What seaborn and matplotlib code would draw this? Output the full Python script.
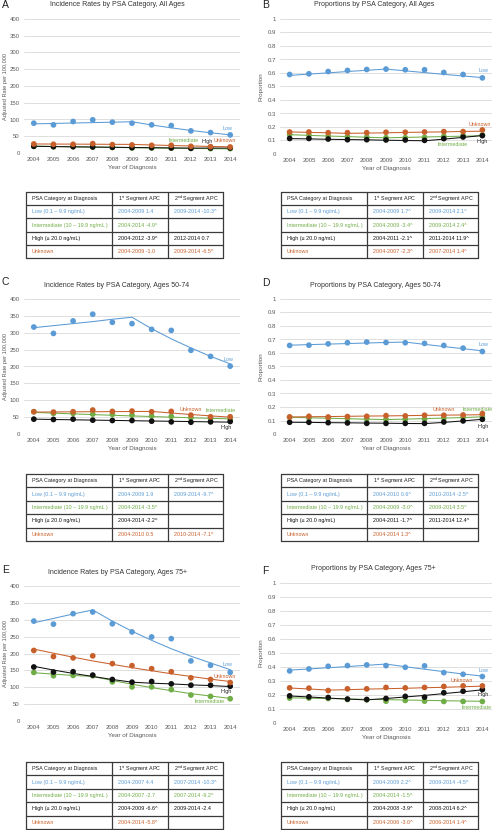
import matplotlib
matplotlib.use("Agg")
import matplotlib.pyplot as plt
import seaborn as sns
import pandas as pd
from matplotlib.lines import Line2D

# ---------------- data ----------------
YEARS = list(range(2004, 2015))
CATEGORIES = ["Low", "Intermediate", "High", "Unknown"]

# A: incidence, all ages
A_LOW_OBS = [89, 84, 94, 99, 92, 89, 84, 82, 66, 61, 54]
A_LOW_FIT = [87.0, 88.2, 89.5, 90.7, 92.0, 93.3, 83.7, 75.1, 67.3, 60.4, 54.2]
A_INT_OBS = [20, 19, 19, 18, 17, 15, 15, 15, 14, 13, 13]
A_INT_FIT = [20.5, 19.5, 18.5, 17.6, 16.8, 15.9, 15.2, 14.4, 13.7, 13.0, 12.4]
A_HIGH_OBS = [20, 19, 19, 18, 17, 16, 16, 15, 14, 15, 15]
A_HIGH_FIT = [20.0, 19.2, 18.5, 17.8, 17.1, 16.4, 15.8, 15.2, 14.6, 14.7, 14.8]
A_UNK_OBS = [27, 26, 26, 28, 25, 24, 23, 23, 20, 19, 18]
A_UNK_FIT = [27.0, 26.7, 26.5, 26.2, 25.9, 25.7, 24.0, 22.4, 21.0, 19.6, 18.4]

# B: proportions, all ages
B_LOW_OBS = [0.589, 0.594, 0.611, 0.619, 0.626, 0.629, 0.624, 0.624, 0.604, 0.589, 0.564]
B_LOW_FIT = [0.582, 0.592, 0.601, 0.611, 0.620, 0.629, 0.616, 0.603, 0.590, 0.578, 0.566]
B_INT_OBS = [0.144, 0.139, 0.134, 0.129, 0.126, 0.121, 0.121, 0.123, 0.131, 0.136, 0.141]
B_INT_FIT = [0.143, 0.138, 0.133, 0.129, 0.124, 0.120, 0.123, 0.126, 0.129, 0.132, 0.135]
B_HIGH_OBS = [0.115, 0.115, 0.111, 0.106, 0.106, 0.104, 0.104, 0.101, 0.114, 0.126, 0.136]
B_HIGH_FIT = [0.114, 0.112, 0.109, 0.107, 0.105, 0.102, 0.100, 0.098, 0.110, 0.123, 0.137]
B_UNK_OBS = [0.163, 0.163, 0.158, 0.158, 0.158, 0.161, 0.161, 0.163, 0.166, 0.166, 0.178]
B_UNK_FIT = [0.164, 0.160, 0.157, 0.153, 0.155, 0.157, 0.160, 0.162, 0.164, 0.167, 0.169]

# C: incidence, ages 50-74
C_LOW_OBS = [317, 298, 335, 355, 331, 327, 310, 307, 248, 230, 201]
C_LOW_FIT = [315, 321, 327, 333, 340, 346, 312, 282, 255, 230, 208]
C_INT_OBS = [66, 61, 61, 59, 58, 56, 53, 52, 48, 46, 44]
C_INT_FIT = [64.0, 61.8, 59.6, 57.5, 55.5, 53.6, 51.7, 49.9, 48.1, 46.4, 44.8]
C_HIGH_OBS = [44, 43, 44, 41, 40, 40, 38, 36, 35, 36, 37]
C_HIGH_FIT = [44.0, 43.0, 42.1, 41.2, 40.3, 39.4, 38.5, 37.7, 36.8, 36.0, 35.2]
C_UNK_OBS = [66, 65, 66, 71, 67, 68, 66, 67, 56, 51, 51]
C_UNK_FIT = [65.0, 65.3, 65.7, 66.0, 66.3, 66.6, 67.0, 62.2, 57.8, 53.7, 49.9]

# D: proportions, ages 50-74
D_LOW_OBS = [0.656, 0.658, 0.668, 0.676, 0.681, 0.678, 0.676, 0.671, 0.656, 0.636, 0.611]
D_LOW_FIT = [0.658, 0.662, 0.666, 0.670, 0.674, 0.678, 0.681, 0.664, 0.648, 0.632, 0.616]
D_INT_OBS = [0.124, 0.119, 0.116, 0.114, 0.111, 0.109, 0.109, 0.111, 0.119, 0.124, 0.131]
D_INT_FIT = [0.124, 0.120, 0.117, 0.113, 0.110, 0.107, 0.110, 0.114, 0.118, 0.122, 0.127]
D_HIGH_OBS = [0.087, 0.087, 0.084, 0.082, 0.079, 0.079, 0.079, 0.079, 0.089, 0.097, 0.109]
D_HIGH_FIT = [0.087, 0.086, 0.084, 0.083, 0.081, 0.080, 0.078, 0.077, 0.086, 0.097, 0.109]
D_UNK_OBS = [0.126, 0.131, 0.126, 0.129, 0.131, 0.136, 0.134, 0.139, 0.139, 0.141, 0.151]
D_UNK_FIT = [0.126, 0.128, 0.129, 0.131, 0.133, 0.134, 0.136, 0.138, 0.140, 0.141, 0.143]

# E: incidence, ages 75+
E_LOW_OBS = [296, 287, 318, 323, 288, 264, 249, 244, 178, 165, 144]
E_LOW_FIT = [291, 304, 317, 329, 296, 266, 239, 214, 192, 172, 152]
E_INT_OBS = [144, 134, 135, 134, 116, 101, 101, 93, 77, 73, 66]
E_INT_FIT = [143, 139, 135, 132, 120, 109, 99, 90, 81, 74, 67]
E_HIGH_OBS = [160, 145, 146, 136, 123, 115, 117, 110, 106, 106, 103]
E_HIGH_FIT = [162, 151, 141, 132, 123, 115, 112, 110, 107, 105, 102]
E_UNK_OBS = [209, 191, 187, 193, 170, 164, 155, 146, 128, 123, 114]
E_UNK_FIT = [213, 201, 189, 178, 168, 158, 149, 140, 132, 124, 117]

# F: proportions, ages 75+
F_LOW_OBS = [0.372, 0.386, 0.405, 0.410, 0.415, 0.410, 0.398, 0.408, 0.360, 0.348, 0.332]
F_LOW_FIT = [0.378, 0.386, 0.395, 0.403, 0.412, 0.421, 0.402, 0.384, 0.367, 0.350, 0.335]
F_INT_OBS = [0.178, 0.178, 0.175, 0.168, 0.166, 0.156, 0.161, 0.156, 0.154, 0.154, 0.154]
F_INT_FIT = [0.180, 0.177, 0.175, 0.172, 0.169, 0.167, 0.164, 0.162, 0.159, 0.157, 0.155]
F_HIGH_OBS = [0.194, 0.187, 0.182, 0.171, 0.168, 0.175, 0.190, 0.185, 0.216, 0.227, 0.239]
F_HIGH_FIT = [0.193, 0.186, 0.178, 0.171, 0.165, 0.175, 0.186, 0.197, 0.210, 0.223, 0.237]
F_UNK_OBS = [0.251, 0.249, 0.232, 0.244, 0.244, 0.254, 0.251, 0.254, 0.261, 0.265, 0.265]
F_UNK_FIT = [0.250, 0.243, 0.235, 0.238, 0.242, 0.245, 0.248, 0.252, 0.255, 0.259, 0.263]

INC_TICKS = [0, 50, 100, 150, 200, 250, 300, 350, 400]
INC_TICK_LABELS = ["0", "50", "100", "150", "200", "250", "300", "350", "400"]
PROP_TICKS = [0, 0.1, 0.2, 0.3, 0.4, 0.5, 0.6, 0.7, 0.8, 0.9, 1.0]
PROP_TICK_LABELS = ["0", "0.1", "0.2", "0.3", "0.4", "0.5", "0.6", "0.7", "0.8", "0.9", "1"]

TITLES = {
    "A": "Incidence Rates by PSA Category, All Ages",
    "B": "Proportions by PSA Category, All Ages",
    "C": "Incidence Rates by PSA Category, Ages 50-74",
    "D": "Proportions by PSA Category, Ages 50-74",
    "E": "Incidence Rates by PSA Category, Ages 75+",
    "F": "Proportions by PSA Category, Ages 75+",
}

ROW_LABELS = ["Low (0.1 \u2013 9.9 ng/mL)", "Intermediate (10 \u2013 19.9 ng/mL )",
              "High (\u2265 20.0 ng/mL)", "Unknown"]
TABLE_A = [["2004-2009 1.4", "2009-2014 -10.3^"], ["2004-2014 -4.9^", ""],
           ["2004-2012 -3.9^", "2012-2014 0.7"], ["2004-2009 -1.0", "2009-2014 -6.5^"]]
TABLE_B = [["2004-2009 1.7^", "2009-2014 2.1^"], ["2004-2009 -3.4^", "2009-2014 2.4^"],
           ["2004-2011 -2.1^", "2011-2014 11.9^"], ["2004-2007 -2.3^", "2007-2014 1.4^"]]
TABLE_C = [["2004-2009 1.9", "2009-2014 -9.7^"], ["2004-2014 -3.5^", ""],
           ["2004-2014 -2.2^", ""], ["2004-2010 0.5", "2010-2014 -7.1^"]]
TABLE_D = [["2004-2010 0.6^", "2010-2014 -2.5^"], ["2004-2009 -3.0^", "2009-2014 3.5^"],
           ["2004-2011 -1.7^", "2011-2014 12.4^"], ["2004-2014 1.3^", ""]]
TABLE_E = [["2004-2007 4.4", "2007-2014 -10.3^"], ["2004-2007 -2.7", "2007-2014 -9.2^"],
           ["2004-2009 -6.6^", "2009-2014 -2.4"], ["2004-2014 -5.8^", ""]]
TABLE_F = [["2004-2009 2.2^", "2009-2014 -4.5^"], ["2004-2014 -1.5^", ""],
           ["2004-2008 -3.9^", "2008-2014 6.2^"], ["2004-2006 -3.0^", "2006-2014 1.4^"]]

# ---------------- style ----------------
sns.set_style("white")
plt.rcParams['font.family'] = ['Liberation Sans', 'DejaVu Sans']
plt.rcParams['mathtext.fontset'] = 'custom'
plt.rcParams['mathtext.rm'] = 'Liberation Sans'
plt.rcParams['mathtext.it'] = 'Liberation Sans:italic'
plt.rcParams['mathtext.bf'] = 'Liberation Sans:bold'

BLUE, GREEN, BLACK, ORANGE = "#5B9BD5", "#70AD47", "#111111", "#C8602C"
PAL = {"Low": BLUE, "Intermediate": GREEN, "High": BLACK, "Unknown": ORANGE}
GRAY = "#595959"

W, H = 493, 830
fig = plt.figure(figsize=(W / 100, H / 100), dpi=100)


def fx(x):
    return x / W


def fy(y):
    return 1 - y / H


def ptext(x, y, s, **kw):
    kw.setdefault("ha", "center")
    kw.setdefault("va", "center")
    fig.text(fx(x), fy(y), s, **kw)


def long_df(obs_lists):
    rows = []
    for cat, vals in zip(CATEGORIES, obs_lists):
        for yr, v in zip(YEARS, vals):
            rows.append({"year": yr, "value": v, "category": cat})
    return pd.DataFrame(rows)


PANELS = {
    "A": dict(obs=[A_LOW_OBS, A_INT_OBS, A_HIGH_OBS, A_UNK_OBS],
              fit=[A_LOW_FIT, A_INT_FIT, A_HIGH_FIT, A_UNK_FIT], kind="inc",
              box=(24, 19, 240, 153), table=TABLE_A),
    "B": dict(obs=[B_LOW_OBS, B_INT_OBS, B_HIGH_OBS, B_UNK_OBS],
              fit=[B_LOW_FIT, B_INT_FIT, B_HIGH_FIT, B_UNK_FIT], kind="prop",
              box=(280, 19, 492, 154), table=TABLE_B),
    "C": dict(obs=[C_LOW_OBS, C_INT_OBS, C_HIGH_OBS, C_UNK_OBS],
              fit=[C_LOW_FIT, C_INT_FIT, C_HIGH_FIT, C_UNK_FIT], kind="inc",
              box=(24, 299, 240, 434), table=TABLE_C),
    "D": dict(obs=[D_LOW_OBS, D_INT_OBS, D_HIGH_OBS, D_UNK_OBS],
              fit=[D_LOW_FIT, D_INT_FIT, D_HIGH_FIT, D_UNK_FIT], kind="prop",
              box=(280, 299, 492, 434), table=TABLE_D),
    "E": dict(obs=[E_LOW_OBS, E_INT_OBS, E_HIGH_OBS, E_UNK_OBS],
              fit=[E_LOW_FIT, E_INT_FIT, E_HIGH_FIT, E_UNK_FIT], kind="inc",
              box=(24, 586, 240, 721), table=TABLE_E),
    "F": dict(obs=[F_LOW_OBS, F_INT_OBS, F_HIGH_OBS, F_UNK_OBS],
              fit=[F_LOW_FIT, F_INT_FIT, F_HIGH_FIT, F_UNK_FIT], kind="prop",
              box=(280, 583, 492, 723), table=TABLE_F),
}

# letter / title positions (pixel)
HEAD = {"A": ((2, 5), (117, 5)), "B": ((262, 5), (374, 5)),
        "C": ((2, 282), (117, 285)), "D": ((262, 283), (375, 285)),
        "E": ((2, 570), (117, 573)), "F": ((262, 571), (373, 568))}

# curve labels (pixel centers)
CURVE_LABELS = {
    "A": [("Low", 227, 129), ("Intermediate", 184, 141), ("High", 207, 141), ("Unknown", 225, 141)],
    "B": [("Low", 483, 70), ("Unknown", 480, 124), ("Intermediate", 453, 145), ("High", 482, 142)],
    "C": [("Low", 228, 359), ("Unknown", 191, 409), ("Intermediate", 221, 410), ("High", 226, 427)],
    "D": [("Low", 483, 344), ("Unknown", 444, 409), ("Intermediate", 478, 409), ("High", 483, 426)],
    "E": [("Low", 227, 664), ("Unknown", 225, 677), ("High", 226, 691), ("Intermediate", 210, 701)],
    "F": [("Low", 483, 670), ("Unknown", 462, 680), ("High", 483, 694), ("Intermediate", 477, 707)],
}

TABLE_GEOM = {
    "A": (26, 112, 168, 223, 192, 258), "B": (281, 367, 423, 478, 192, 258),
    "C": (26, 112, 168, 223, 474, 541), "D": (281, 367, 423, 478, 474, 541),
    "E": (26, 112, 168, 223, 762, 829), "F": (281, 367, 423, 478, 762, 829),
}


def draw_table(key, cells):
    left, c1, c2, right, top, bottom = TABLE_GEOM[key]
    n = 5
    rh = (bottom - top) / n
    lc = "#3a3a3a"
    for i in range(n + 1):
        yy = top + i * rh
        fig.add_artist(Line2D([fx(left), fx(right)], [fy(yy), fy(yy)], color=lc, lw=0.9))
    for xx in (left, c1, c2, right):
        fig.add_artist(Line2D([fx(xx), fx(xx)], [fy(top), fy(bottom)], color=lc, lw=0.9))
    header = ["PSA Category at Diagnosis", "1$^{\\mathrm{st}}$ Segment APC", "2$^{\\mathrm{nd}}$ Segment APC"]
    colors = [BLACK, BLUE, GREEN, BLACK, ORANGE]
    rows = [header] + [[ROW_LABELS[i]] + cells[i] for i in range(4)]
    for r, row in enumerate(rows):
        yc = top + (r + 0.5) * rh
        for cx, txt in zip((left + 6, c1 + 6, c2 + 6), row):
            if txt:
                ptext(cx, yc, txt, ha="left", fontsize=3.9,
                      color=colors[r] if r > 0 else "#222222")


for key, p in PANELS.items():
    l, t, r, b = p["box"]
    ax = fig.add_axes([fx(l), fy(b), (r - l) / W, (b - t) / H])
    obs = long_df(p["obs"])
    fit = long_df(p["fit"])
    sns.lineplot(data=fit, x="year", y="value", hue="category", palette=PAL,
                 linewidth=0.75, legend=False, ax=ax, zorder=2)
    sns.scatterplot(data=obs, x="year", y="value", hue="category", palette=PAL,
                    s=17, edgecolor="none", linewidth=0, legend=False, ax=ax, zorder=3)
    ax.set_xlim(2003.5, 2014.5)
    ax.set_xticks(YEARS)
    ax.set_xticklabels([str(y) for y in YEARS])
    if p["kind"] == "inc":
        ax.set_ylim(0, 400)
        ax.set_yticks(INC_TICKS)
        ax.set_yticklabels(INC_TICK_LABELS)
        ax.set_ylabel("Adjusted Rate per 100,000", fontsize=4.1, color=GRAY, labelpad=1.5)
    else:
        ax.set_ylim(0, 1)
        ax.set_yticks(PROP_TICKS)
        ax.set_yticklabels(PROP_TICK_LABELS)
        ax.set_ylabel("Proportion", fontsize=4.5, color=GRAY, labelpad=2.5)
    ax.set_xlabel("Year of Diagnosis", fontsize=4.5, color=GRAY, labelpad=2)
    ax.tick_params(axis="both", length=0, labelsize=4.3, labelcolor=GRAY, pad=3)
    ax.yaxis.grid(True, color="#d9d9d9", lw=0.6)
    ax.xaxis.grid(False)
    ax.set_axisbelow(True)
    for s in ax.spines.values():
        s.set_visible(False)
    ax.patch.set_alpha(0)

    (lx, ly), (tx, ty) = HEAD[key]
    ptext(lx, ly, key, ha="left", fontsize=7.5, color="#222222")
    ptext(tx, ty, TITLES[key], fontsize=5.0, color="#333333")
    for name, cx, cy in CURVE_LABELS[key]:
        ptext(cx, cy, name, fontsize=3.9, color=PAL[name] if name != "High" else "#222222")
    draw_table(key, p["table"])

fig.savefig("out.png", dpi=100)
